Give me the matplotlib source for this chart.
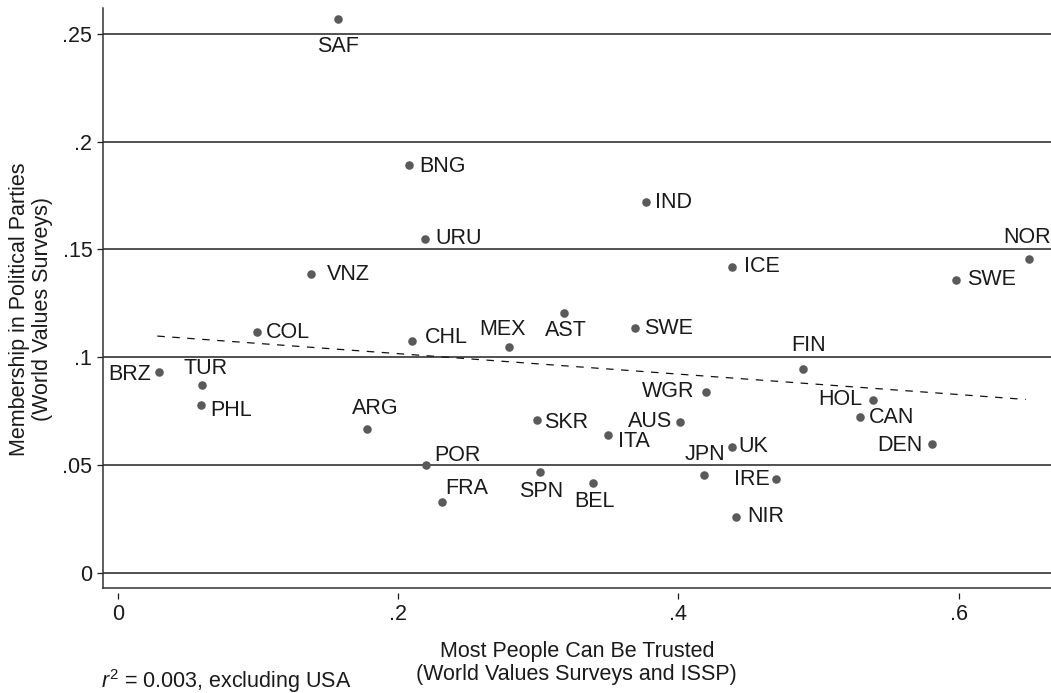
import numpy as np
import matplotlib.pyplot as plt

plt.rcParams['font.family'] = ['Liberation Sans', 'DejaVu Sans']
plt.rcParams['font.size'] = 15.5
plt.rcParams['mathtext.fontset'] = 'custom'
plt.rcParams['mathtext.rm'] = 'Liberation Sans'
plt.rcParams['mathtext.it'] = 'Liberation Sans:italic'

# country codes, trust share, party membership share
countries = ['SAF', 'BNG', 'IND', 'URU', 'VNZ', 'ICE', 'NOR', 'SWE', 'COL', 'CHL',
             'MEX', 'AST', 'SWE', 'FIN', 'BRZ', 'TUR', 'PHL', 'ARG', 'WGR', 'HOL',
             'CAN', 'AUS', 'SKR', 'ITA', 'UK', 'DEN', 'JPN', 'IRE', 'NIR', 'POR',
             'FRA', 'SPN', 'BEL']
trust = [0.157, 0.208, 0.377, 0.219, 0.138, 0.438, 0.650, 0.598, 0.099, 0.210,
         0.279, 0.318, 0.369, 0.489, 0.029, 0.060, 0.059, 0.178, 0.420, 0.539,
         0.530, 0.401, 0.299, 0.350, 0.438, 0.581, 0.418, 0.470, 0.441, 0.220,
         0.231, 0.301, 0.339]
membership = [0.257, 0.189, 0.172, 0.155, 0.1385, 0.142, 0.1454, 0.136, 0.1115, 0.1076,
              0.1047, 0.1206, 0.1134, 0.0945, 0.0931, 0.0871, 0.0778, 0.0665, 0.084, 0.0803,
              0.0721, 0.0699, 0.0708, 0.0639, 0.0585, 0.0597, 0.0455, 0.0433, 0.026, 0.050,
              0.0329, 0.0467, 0.0418]

# fitted line (excluding USA), end points
fit_x = [0.028, 0.648]
fit_y = [0.1098, 0.0804]

# label placement: (ha, dx px, dy px) relative to the dot
label_place = [('center', 0, -28), ('left', 10, -1), ('left', 9, -1), ('left', 11, 0),
               ('left', 16, 0), ('left', 12, 0), ('center', -2, 22), ('left', 11, 0),
               ('left', 9, 0), ('left', 13, 3), ('center', -6, 18), ('center', 2, -18),
               ('left', 9, 0), ('center', 5, 24), ('right', -8, -2), ('center', 3, 17),
               ('left', 10, -5), ('center', 8, 21), ('right', -12, 0), ('right', -11, 0),
               ('left', 8, 0), ('right', -8, 1), ('left', 7, -2), ('left', 10, -6),
               ('left', 7, 0), ('right', -9, -1), ('center', 1, 20), ('right', -7, 0),
               ('left', 11, 0), ('left', 8, 10), ('left', 4, 13), ('center', 1, -19),
               ('center', 2, -19)]

fig = plt.figure(figsize=(10.51, 6.93), dpi=100)
ax = fig.add_axes([0.0977, 0.151, 0.9023, 0.837])

for yv in [0, 0.05, 0.1, 0.15, 0.2, 0.25]:
    ax.axhline(yv, color='#222222', lw=1.1, zorder=1)

ax.plot(fit_x, fit_y, color='#111111', lw=0.9, ls=(0, (6, 6)), zorder=2)
ax.scatter(trust, membership, s=38, color='#5a5a5a', zorder=3, linewidths=0)

for name, x, y, (ha, dx, dy) in zip(countries, trust, membership, label_place):
    ax.annotate(name, (x, y), xytext=(dx * 0.72, dy * 0.72), textcoords='offset points',
                ha=ha, va='center', fontsize=15.5, color='#1a1a1a', zorder=4,
                annotation_clip=False)

ax.set_xlim(-0.011, 0.666)
ax.set_ylim(-0.0072, 0.2618)

ax.set_yticks([0, 0.05, 0.1, 0.15, 0.2, 0.25])
ax.set_yticklabels(['0', '.05', '.1', '.15', '.2', '.25'])
ax.set_xticks([0, 0.2, 0.4, 0.6])
ax.set_xticklabels(['0', '.2', '.4', '.6'])

for s in ['top', 'right']:
    ax.spines[s].set_visible(False)
ax.spines['left'].set_color('#333333')
ax.spines['left'].set_linewidth(1.1)
ax.spines['bottom'].set_position(('outward', 3))
ax.spines['bottom'].set_visible(False)
ax.plot([0, 1], [0, 0], transform=ax.transAxes, color='#333333', lw=1.1, clip_on=False)

ax.tick_params(axis='y', length=4.5, width=0.9, pad=3, colors='#1a1a1a', labelsize=15.5)
ax.tick_params(axis='x', length=4, width=0.9, pad=4, colors='#1a1a1a', labelsize=15.5)

ax.set_xlabel('Most People Can Be Trusted\n(World Values Surveys and ISSP)',
              fontsize=15.5, color='#1a1a1a', linespacing=1.1)
ax.xaxis.set_label_coords(0.5, -0.091)
ax.xaxis.label.set_va('top')
ax.set_ylabel('Membership in Political Parties\n(World Values Surveys)',
              fontsize=15.5, color='#1a1a1a', linespacing=1.15)
ax.yaxis.set_label_coords(-0.052, 0.482)

fig.text(0.096, 1 - 688 / 693, r'$r^2$ = 0.003, excluding USA', fontsize=15.5,
         color='#1a1a1a', va='baseline', ha='left')

fig.savefig('out.png', dpi=100)
